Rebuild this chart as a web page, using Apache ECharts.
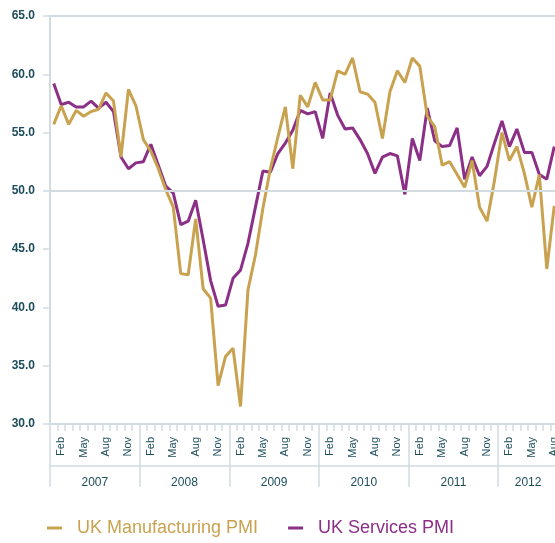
<!DOCTYPE html>
<html>
<head>
<meta charset="utf-8">
<script src="https://cdn.jsdelivr.net/npm/echarts@6/dist/echarts.min.js"></script>
<style>
html,body{margin:0;padding:0;background:#fff;}
#chart{width:555px;height:543px;}
</style>
</head>
<body>
<div id="chart"></div>
<script>
var years = ['2007', '2008', '2009', '2010', '2011', '2012'];
var monthNames = ['Jan','Feb','Mar','Apr','May','Jun','Jul','Aug','Sep','Oct','Nov','Dec'];
var monthCount = 68; // Jan 2007 .. Aug 2012
var yTicks = [30, 35, 40, 45, 50, 55, 60, 65];

var manufacturing = [
  55.7, 57.3, 55.7, 56.9, 56.4, 56.8, 57.0, 58.4, 57.7, 52.9, 58.7, 57.3,
  54.4, 53.4, 51.9, 50.1, 48.6, 42.9, 42.8, 47.6, 41.6, 40.8, 33.3, 35.8,
  36.5, 31.5, 41.5, 44.5, 48.5, 51.9, 54.6, 57.2, 51.9, 58.2, 57.2, 59.3,
  57.8, 57.8, 60.3, 60.0, 61.4, 58.5, 58.3, 57.6, 54.5, 58.5, 60.3, 59.3,
  61.4, 60.7, 56.4, 55.5, 52.2, 52.5, 51.4, 50.3, 52.6, 48.6, 47.4, 50.9,
  55.0, 52.6, 53.8, 51.5, 48.6, 51.4, 43.3, 48.7
];
var services = [
  59.2, 57.4, 57.6, 57.2, 57.2, 57.7, 57.1, 57.6, 56.8, 52.9, 51.9, 52.4,
  52.5, 54.0, 52.2, 50.4, 49.8, 47.1, 47.4, 49.2, 45.8, 42.3, 40.1, 40.2,
  42.5, 43.2, 45.5, 48.6, 51.7, 51.6, 53.2, 54.1, 55.2, 56.9, 56.6, 56.8,
  54.5, 58.4, 56.5, 55.3, 55.4, 54.4, 53.2, 51.5, 52.9, 53.2, 53.0, 49.7,
  54.5, 52.6, 57.1, 54.3, 53.8, 53.9, 55.4, 51.0, 52.9, 51.3, 52.1, 54.1,
  56.0, 53.8, 55.3, 53.3, 53.3, 51.4, 51.0, 53.8
];

var GOLD = '#c9a24f';
var PURPLE = '#8b2f87';
var AXIS = '#d2dce0';
var TEXT = '#1d4d5c';
var FONT = "'Liberation Sans', Arial, Helvetica, sans-serif";

// categories
var categories = [];
for (var i = 0; i < monthCount; i++) {
  categories.push(monthNames[i % 12] + ' ' + years[Math.floor(i / 12)]);
}
// year boundaries and centers (in month units)
var yearBounds = [], yearCenters = [];
for (var y = 0; y < years.length; y++) {
  var start = y * 12, end = Math.min((y + 1) * 12, monthCount);
  yearBounds.push(start);
  yearCenters.push((start + end) / 2);
}
yearBounds.push(monthCount);

var chart = echarts.init(document.getElementById('chart'), null, {renderer: 'canvas'});
chart.setOption({
  animation: false,
  textStyle: {fontFamily: FONT},
  grid: {left: 50, width: 508, top: 16, height: 408, containLabel: false, outerBoundsMode: 'none'},
  legend: {
    left: 42, top: 514,
    itemWidth: 15, itemHeight: 3, itemGap: 30,
    icon: 'rect',
    data: [
      {name: 'UK Manufacturing PMI', textStyle: {color: GOLD}},
      {name: 'UK Services PMI', textStyle: {color: PURPLE}}
    ],
    textStyle: {fontSize: 18, fontFamily: FONT, padding: [0, 0, 0, 10]}
  },
  xAxis: [
    {
      type: 'category', data: categories, boundaryGap: true, position: 'bottom',
      axisLine: {show: true, lineStyle: {color: AXIS, width: 2}},
      axisTick: {show: true, interval: 0, length: 7, lineStyle: {color: AXIS, width: 1.5}},
      axisLabel: {
        interval: function (idx) { return idx % 3 === 1; },
        rotate: 90, fontSize: 11, color: TEXT, margin: 13, fontFamily: FONT,
        formatter: function (v) { return v.split(' ')[0]; }
      },
      splitLine: {show: false}
    },
    {
      type: 'value', min: 0, max: monthCount, position: 'bottom', offset: 42,
      axisLine: {show: true, lineStyle: {color: AXIS, width: 1.5}},
      axisTick: {show: false}, axisLabel: {show: false}, splitLine: {show: false}
    },
    {
      type: 'value', min: 0, max: monthCount, position: 'bottom', offset: 63,
      axisLine: {show: false},
      axisTick: {show: true, customValues: yearBounds, inside: true, length: 63, lineStyle: {color: AXIS, width: 1.5}},
      axisLabel: {
        show: true, customValues: yearCenters, inside: true, margin: -2,
        fontSize: 12, color: TEXT, fontFamily: FONT,
        formatter: function (v) {
          for (var k = 0; k < yearCenters.length; k++) {
            if (Math.abs(yearCenters[k] - v) < 1e-6) return years[k];
          }
          return '';
        }
      },
      splitLine: {show: false}
    }
  ],
  yAxis: {
    type: 'value', min: yTicks[0], max: yTicks[yTicks.length - 1], interval: 5,
    axisLine: {show: true, lineStyle: {color: AXIS, width: 2}},
    axisTick: {show: true, length: 7, lineStyle: {color: AXIS, width: 1.5}},
    axisLabel: {
      fontSize: 12, fontWeight: 'bold', color: TEXT, margin: 15, fontFamily: FONT,
      formatter: function (v) { return v.toFixed(1); }
    },
    splitLine: {show: false}
  },
  series: [
    {
      name: 'grid', type: 'line', data: [], z: 1, silent: true,
      markLine: {
        silent: true, symbol: 'none', label: {show: false},
        lineStyle: {color: AXIS, width: 2, type: 'solid'},
        data: [{yAxis: 50}, {yAxis: 65}]
      }
    },
    {
      name: 'UK Manufacturing PMI', type: 'line', data: manufacturing, z: 4,
      showSymbol: false, symbol: 'none', color: GOLD,
      lineStyle: {color: GOLD, width: 3}
    },
    {
      name: 'UK Services PMI', type: 'line', data: services, z: 3,
      showSymbol: false, symbol: 'none', color: PURPLE,
      lineStyle: {color: PURPLE, width: 3}
    }
  ]
});
</script>
</body>
</html>
